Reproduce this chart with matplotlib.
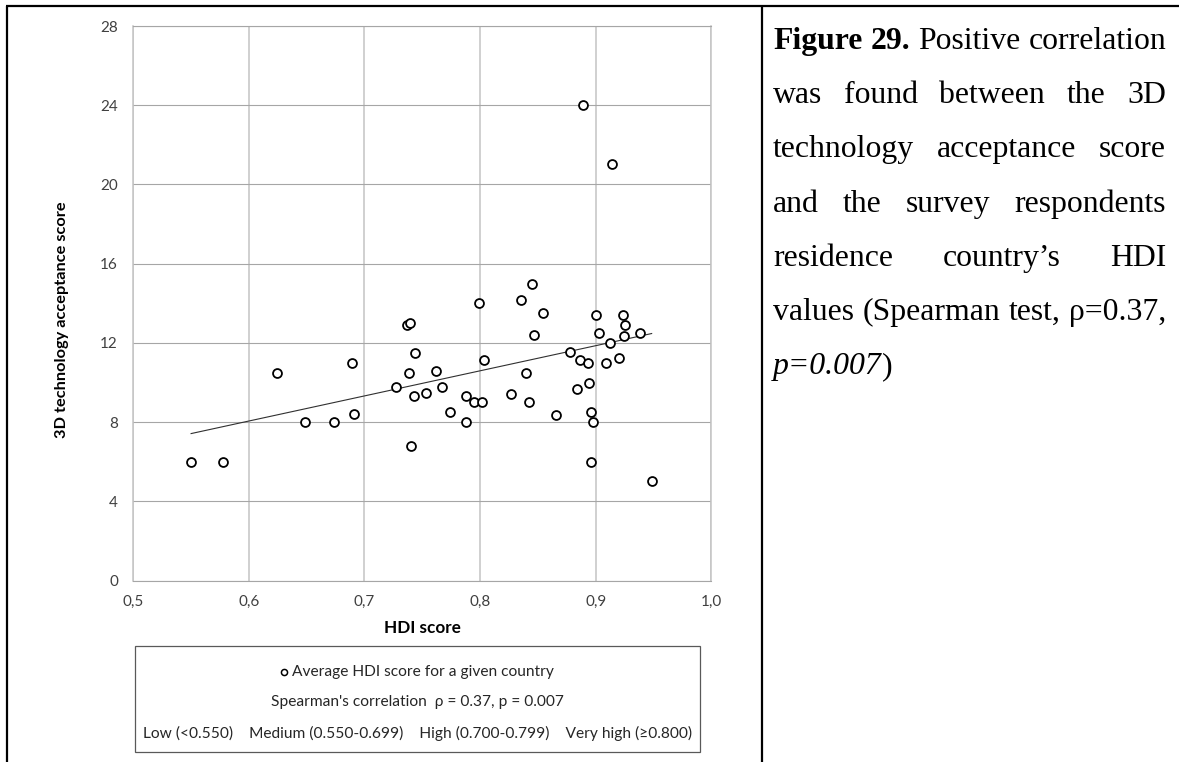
import numpy as np
import matplotlib
matplotlib.use("Agg")
import matplotlib.pyplot as plt
from matplotlib.lines import Line2D
from matplotlib.patches import Rectangle
from matplotlib.ticker import FuncFormatter

# === data ===
hdi = [0.550, 0.578, 0.624, 0.6485, 0.674, 0.689, 0.691, 0.727, 0.7385, 0.737,
       0.7396, 0.7425, 0.7405, 0.744, 0.7535, 0.762, 0.767, 0.7737, 0.788, 0.788,
       0.7947, 0.8014, 0.7993, 0.8036, 0.8265, 0.8354, 0.8446, 0.8394, 0.8423, 0.8464,
       0.8547, 0.8657, 0.8778, 0.8838, 0.8867, 0.893, 0.8942, 0.896, 0.898, 0.8957,
       0.9005, 0.9026, 0.909, 0.912, 0.920, 0.9234, 0.9256, 0.9247, 0.9386, 0.9484,
       0.889, 0.914]
score = [6.0, 6.0, 10.5, 8.0, 8.0, 11.0, 8.4, 9.78, 10.5, 12.9,
         13.03, 9.34, 6.8, 11.5, 9.46, 10.6, 9.8, 8.5, 9.34, 8.0,
         9.03, 9.03, 14.0, 11.13, 9.43, 14.16, 15.0, 10.5, 9.03, 12.42,
         13.52, 8.35, 11.53, 9.68, 11.13, 11.0, 10.0, 8.5, 8.0, 6.0,
         13.43, 12.5, 11.0, 12.02, 11.25, 13.43, 12.91, 12.34, 12.51, 5.04,
         24.0, 21.05]

x_ticks = [0.5, 0.6, 0.7, 0.8, 0.9, 1.0]
y_ticks = [0, 4, 8, 12, 16, 20, 24, 28]

legend_lines = [
    "Average HDI score for a given country",
    "Spearman's correlation  \u03c1 = 0.37, p = 0.007",
    "Low (<0.550)    Medium (0.550-0.699)    High (0.700-0.799)    Very high (\u22650.800)",
]

caption_lines = [
    [("Figure", "bold", "normal"), ("29.", "bold", "normal"),
     ("Positive", "normal", "normal"), ("correlation", "normal", "normal")],
    [(w, "normal", "normal") for w in "was found between the 3D".split()],
    [(w, "normal", "normal") for w in "technology acceptance score".split()],
    [(w, "normal", "normal") for w in "and the survey respondents".split()],
    [(w, "normal", "normal") for w in "residence country\u2019s HDI".split()],
    [(w, "normal", "normal") for w in "values (Spearman test, \u03c1=0.37,".split()],
]
caption_last = [("p=0.007", "normal", "italic"), (")", "normal", "normal")]

W, H = 1179, 762
SANS = ["Lato", "DejaVu Sans"]
SERIF = ["Liberation Serif", "DejaVu Serif"]
TICK_COLOR = "#404040"


def fx(px):
    return px / W


def fy(py):
    return 1 - py / H


fig = plt.figure(figsize=(W / 100, H / 100), dpi=100)
renderer = fig.canvas.get_renderer()

# --- scatter chart ---
ax_l, ax_r, ax_t, ax_b = 133.3, 711.3, 26.0, 580.7
ax = fig.add_axes([fx(ax_l), fy(ax_b), (ax_r - ax_l) / W, (ax_b - ax_t) / H])
ax.set_xlim(0.5, 1.0)
ax.set_ylim(0, 28)
ax.set_xticks(x_ticks)
ax.set_yticks(y_ticks)
ax.xaxis.set_major_formatter(FuncFormatter(lambda v, _: f"{v:.1f}".replace(".", ",")))
ax.tick_params(length=0, labelsize=11, labelcolor=TICK_COLOR)
ax.tick_params(axis="y", pad=11)
ax.tick_params(axis="x", pad=10)
for lab in ax.get_xticklabels() + ax.get_yticklabels():
    lab.set_family(SANS)
ax.grid(True, axis="y", color="#A6A6A6", lw=0.8)
ax.grid(True, axis="x", color="#C4C4C4", lw=1.1)
ax.set_axisbelow(True)
for s in ax.spines.values():
    s.set_color("#A6A6A6")
    s.set_linewidth(0.8)
for side in ("left", "right"):
    ax.spines[side].set_color("#C4C4C4")
    ax.spines[side].set_linewidth(1.1)

hx = np.array(hdi)
sy = np.array(score)
k, b = np.polyfit(hx, sy, 1)
xs = np.array([hx.min(), hx.max()])
ax.plot(xs, k * xs + b, color="#303030", lw=0.8, zorder=2)
ax.plot(hx, sy, "o", ms=6.4, mfc="white", mec="black", mew=1.3, zorder=3)

fig.text(fx(422), fy(628), "HDI score", family=SANS, fontweight="bold",
         fontsize=12.3, ha="center", va="center", color="black")
fig.text(fx(62), fy(320), "3D technology acceptance score", family=SANS,
         fontweight="bold", fontsize=11.8, rotation=90, ha="center", va="center",
         color="black")

# --- legend box ---
box_l, box_r, box_t, box_b = 134.7, 699.5, 646, 752
fig.add_artist(Rectangle((fx(box_l), fy(box_b)), (box_r - box_l) / W, (box_b - box_t) / H,
                         transform=fig.transFigure, fill=False, ec="#595959", lw=0.9))
cx = (box_l + box_r) / 2
leg_size = 11.2
t1 = fig.text(fx(cx + 6), fy(672), legend_lines[0], family=SANS, fontsize=leg_size,
              ha="center", va="center", color="#262626")
fig.text(fx(cx), fy(702), legend_lines[1], family=SANS, fontsize=leg_size,
         ha="center", va="center", color="#262626")
fig.text(fx(cx), fy(733.5), legend_lines[2], family=SANS, fontsize=leg_size,
         ha="center", va="center", color="#262626")

bb = t1.get_window_extent(renderer)
fig.add_artist(Line2D([fx(bb.x0 - 8)], [fy(672)], marker="o", ms=4.4, mfc="white",
                      mec="black", mew=1.1, transform=fig.transFigure))

# --- table borders ---
border = dict(color="black", lw=1.6, transform=fig.transFigure, solid_capstyle="butt")
fig.add_artist(Line2D([fx(6), 1], [fy(6), fy(6)], **border))
fig.add_artist(Line2D([fx(7), fx(7)], [fy(6), 0], **border))
fig.add_artist(Line2D([fx(762), fx(762)], [fy(6), 0], **border))

# --- justified caption ---
cap_l, cap_r = 773, 1166
base0, step = 49, 54.2


def word_width(txt, weight, style, size):
    t = fig.text(0, 0, txt, family=SERIF, fontsize=size, fontweight=weight, fontstyle=style)
    w = t.get_window_extent(renderer).width
    t.remove()
    return w


# size the caption so the first line sets with ordinary word spacing
ref_size = 20.0
first = sum(word_width(*w, ref_size) for w in caption_lines[0])
space = word_width("a a", "normal", "normal", ref_size) - 2 * word_width("a", "normal", "normal", ref_size)
cap_size = ref_size * (cap_r - cap_l) / (first + 3 * space)

for i, words in enumerate(caption_lines):
    widths = [word_width(*w, cap_size) for w in words]
    gap = (cap_r - cap_l - sum(widths)) / (len(words) - 1)
    x = cap_l
    for (txt, weight, style), w in zip(words, widths):
        fig.text(fx(x), fy(base0 + i * step), txt, family=SERIF, fontsize=cap_size,
                 fontweight=weight, fontstyle=style, va="baseline", ha="left", color="black")
        x += w + gap

x = cap_l
for txt, weight, style in caption_last:
    w = word_width(txt, weight, style, cap_size)
    fig.text(fx(x), fy(base0 + 6 * step), txt, family=SERIF, fontsize=cap_size,
             fontweight=weight, fontstyle=style, va="baseline", ha="left", color="black")
    x += w

fig.savefig("out.png", dpi=100)
